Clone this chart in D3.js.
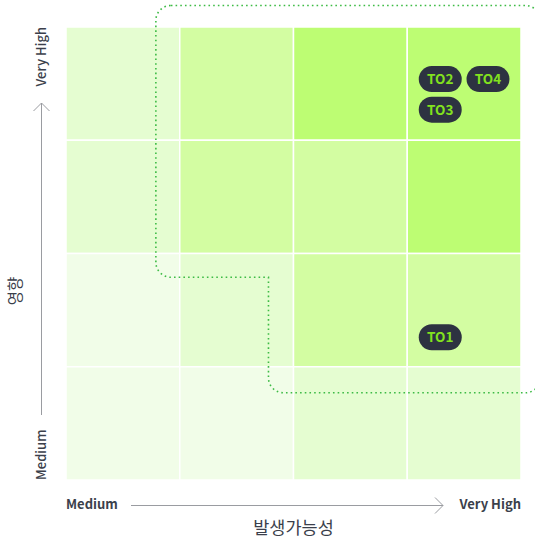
<!DOCTYPE html>
<html>
<head>
<meta charset="utf-8">
<script src="https://cdn.jsdelivr.net/npm/d3@7"></script>
<style>
  html, body { margin: 0; padding: 0; background: #fff; }
  svg { display: block; font-family: "Noto Sans CJK KR", "Noto Sans", sans-serif; }
</style>
</head>
<body>
<div id="matrix"></div>
<script>
// risk level per cell, rows from Very High impact (top) to Medium (bottom), cols by likelihood
var cellLevels = [
    [1, 2, 3, 3],
    [1, 2, 2, 3],
    [0, 1, 2, 2],
    [0, 0, 1, 1]
];
var levelColors = ["#f1fde8", "#e5fdd1", "#d3fda2", "#bdfd73"];

var axisEndLabels = ["Medium", "Very High"];
var xTitle = "발생가능성";
var yTitle = "영향";

// risk items: likelihood / impact score (0-4 grid units)
var riskNames = ["TO1", "TO2", "TO3", "TO4"];
var riskLikelihood = [3.29, 3.29, 3.29, 3.71];
var riskImpact = [1.26, 3.54, 3.27, 3.54];

// high-risk zone outline (grid units)
var zoneLeft = 0.79, zoneStepX = 1.78, zoneRight = 4.17;
var zoneTop = 4.19, zoneStepY = 1.79, zoneBottom = 0.77;

function drawMatrix() {
    var width = 535, height = 542;
    var left = 66, right = 521, top = 27, bottom = 480;

    var svg = d3.select("#matrix")
        .append("svg")
        .attr("width", width)
        .attr("height", height);

    var x = d3.scaleLinear().domain([0, 4]).range([left, right]);
    var y = d3.scaleLinear().domain([0, 4]).range([bottom, top]);

    var cells = [];
    cellLevels.forEach(function (row, r) {
        row.forEach(function (lvl, c) {
            cells.push({ col: c, impact: 3 - r, level: lvl });
        });
    });

    svg.append("g").selectAll("rect")
        .data(cells)
        .enter()
        .append("rect")
        .attr("x", function (d) { return x(d.col); })
        .attr("y", function (d) { return y(d.impact + 1); })
        .attr("width", x(1) - x(0))
        .attr("height", y(0) - y(1))
        .attr("fill", function (d) { return levelColors[d.level]; })
        .attr("stroke", "#fff")
        .attr("stroke-width", 1.5);

    // dotted outline round the high-risk zone
    var r = 15;
    var xl = x(zoneLeft), xs = x(zoneStepX), xr = x(zoneRight);
    var yt = y(zoneTop), ys = y(zoneStepY), yb = y(zoneBottom);
    var p = d3.path();
    p.moveTo(xl + r, yt);
    p.lineTo(xr - r, yt);
    p.arcTo(xr, yt, xr, yt + r, r);
    p.lineTo(xr, yb - r);
    p.arcTo(xr, yb, xr - r, yb, r);
    p.lineTo(xs + r, yb);
    p.arcTo(xs, yb, xs, yb - r, r);
    p.lineTo(xs, ys);
    p.lineTo(xl + r, ys);
    p.arcTo(xl, ys, xl, ys - r, r);
    p.lineTo(xl, yt + r);
    p.arcTo(xl, yt, xl + r, yt, r);
    p.closePath();
    svg.append("path")
        .attr("d", p.toString())
        .attr("fill", "none")
        .attr("stroke", "#3dbb45")
        .attr("stroke-width", 1.6)
        .attr("stroke-dasharray", "1.6 3.1");

    // risk pills
    var pillW = 43, pillH = 26;
    var pill = svg.append("g").selectAll("g")
        .data(riskNames)
        .enter()
        .append("g")
        .attr("transform", function (d, i) {
            return "translate(" + x(riskLikelihood[i]) + "," + y(riskImpact[i]) + ")";
        });
    pill.append("rect")
        .attr("x", -pillW / 2)
        .attr("y", -pillH / 2)
        .attr("width", pillW)
        .attr("height", pillH)
        .attr("rx", pillH / 2)
        .attr("fill", "#2d3241");
    pill.append("text")
        .attr("text-anchor", "middle")
        .attr("dy", "0.36em")
        .attr("font-size", 13.5)
        .attr("font-weight", 700)
        .attr("fill", "#82e21e")
        .text(function (d) { return d; });

    var labelColor = "#3b3f4b", arrowColor = "#9a9ca1";

    // x axis
    var ax = 505.5;
    svg.append("text")
        .attr("x", left).attr("y", 504).attr("dy", "0.35em")
        .attr("font-size", 13).attr("font-weight", 600).attr("fill", labelColor)
        .text(axisEndLabels[0]);
    svg.append("text")
        .attr("x", right).attr("y", 504).attr("dy", "0.35em")
        .attr("text-anchor", "end")
        .attr("font-size", 13).attr("font-weight", 600).attr("fill", labelColor)
        .text(axisEndLabels[1]);
    svg.append("line")
        .attr("x1", 131).attr("x2", 443).attr("y1", ax).attr("y2", ax)
        .attr("stroke", arrowColor).attr("stroke-width", 1);
    svg.append("path")
        .attr("d", "M" + 435 + "," + (ax - 8) + "L443," + ax + "L435," + (ax + 8))
        .attr("fill", "none").attr("stroke", arrowColor).attr("stroke-width", 1);
    svg.append("text")
        .attr("x", (left + right) / 2).attr("y", 528).attr("dy", "0.35em")
        .attr("text-anchor", "middle")
        .attr("font-size", 17.5).attr("fill", labelColor)
        .text(xTitle);

    // y axis
    var ay = 41.5;
    svg.append("text")
        .attr("transform", "translate(" + ay + "," + bottom + ") rotate(-90)")
        .attr("dy", "0.35em")
        .attr("font-size", 13).attr("font-weight", 500).attr("fill", labelColor)
        .text(axisEndLabels[0]);
    svg.append("text")
        .attr("transform", "translate(" + ay + "," + top + ") rotate(-90)")
        .attr("dy", "0.35em")
        .attr("text-anchor", "end")
        .attr("font-size", 13).attr("font-weight", 500).attr("fill", labelColor)
        .text(axisEndLabels[1]);
    svg.append("line")
        .attr("x1", ay).attr("x2", ay).attr("y1", 103).attr("y2", 415)
        .attr("stroke", arrowColor).attr("stroke-width", 1);
    svg.append("path")
        .attr("d", "M" + (ay - 8) + ",111L" + ay + ",103L" + (ay + 8) + ",111")
        .attr("fill", "none").attr("stroke", arrowColor).attr("stroke-width", 1);
    svg.append("text")
        .attr("transform", "translate(16,291) rotate(-90)")
        .attr("dy", "0.35em")
        .attr("text-anchor", "middle")
        .attr("font-size", 15.5).attr("fill", labelColor)
        .text(yTitle);
}

window.addEventListener('load', function () {
    drawMatrix();
});
</script>
</body>
</html>
